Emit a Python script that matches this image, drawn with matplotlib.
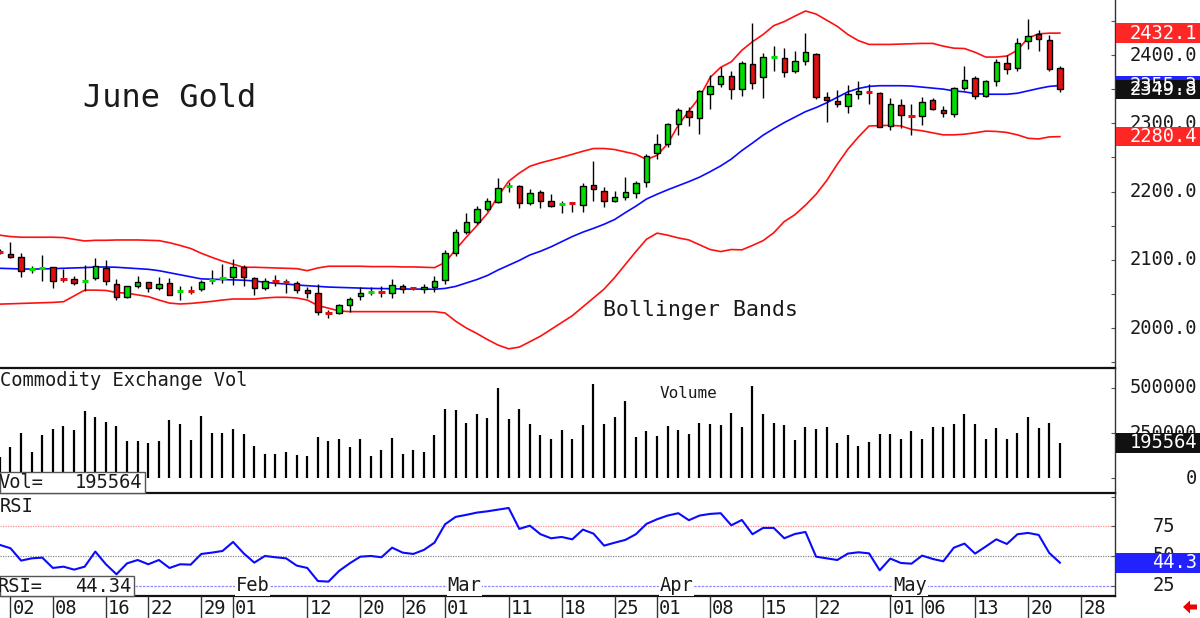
import matplotlib
matplotlib.use('Agg')
import matplotlib.pyplot as plt
import matplotlib.transforms as mtransforms
from matplotlib.patches import Rectangle, Polygon
import numpy as np

# ---------------- data (trading-day index -1 .. 99; index 0 = Jan 02 2024) ----------------
first_index = -1

opens = [2112.5, 2109, 2103.5, 2086, 2087, 2089, 2073, 2072, 2068, 2073.5,
         2088, 2064.5, 2045, 2061.5, 2067, 2058, 2065.5, 2053, 2055, 2057,
         2070, 2073, 2074.5, 2089, 2074, 2058, 2069, 2067.5, 2066, 2056,
         2051, 2023, 2022.5, 2033, 2047.5, 2052.5, 2053, 2051, 2061.5, 2058.5,
         2057.5, 2060.5, 2071, 2110.5, 2141, 2155, 2174, 2185, 2207.5, 2208,
         2183, 2199.5, 2186, 2181, 2183, 2180, 2209.5, 2201, 2186, 2192.5,
         2198, 2214.5, 2257, 2269.5, 2299, 2318, 2307, 2342.5, 2357, 2369.5,
         2350.5, 2387, 2368, 2396.5, 2396, 2376.5, 2391.5, 2401.5, 2339, 2332.5,
         2325.5, 2343, 2346, 2345, 2296.5, 2326.5, 2310.5, 2310.5, 2333.5, 2319.5,
         2313, 2351, 2366, 2340.5, 2362, 2388.5, 2380.5, 2421, 2430.5, 2422,
         2380.5]
highs = [2116, 2125.5, 2110, 2091, 2107, 2090, 2086.5, 2075.5, 2092.5, 2102.5,
         2099.5, 2072, 2062, 2076.5, 2067.5, 2074.5, 2073, 2061, 2062, 2070.5,
         2085, 2093.5, 2100.5, 2092.5, 2074.5, 2073, 2077.5, 2072, 2069.5, 2059.5,
         2064.5, 2026.5, 2035, 2045, 2059.5, 2060.5, 2061.5, 2071.5, 2064.5, 2060.5,
         2064.5, 2076, 2114.5, 2145, 2168.5, 2179, 2190, 2219.5, 2214.5, 2209.5,
         2203.5, 2202, 2196, 2186, 2185, 2212, 2244.5, 2207, 2201, 2221,
         2216, 2254.5, 2284, 2300, 2322, 2323.5, 2348.5, 2370.5, 2383, 2376.5,
         2391, 2447, 2403.5, 2413, 2410, 2406, 2432, 2403.5, 2346, 2348.5,
         2356, 2362.5, 2357.5, 2345.5, 2336.5, 2335, 2328, 2339, 2336.5, 2325.5,
         2352.5, 2384, 2369, 2363.5, 2394, 2400, 2424.5, 2452.5, 2436.5, 2429.5,
         2384]
lows = [2108, 2102, 2075, 2081, 2069, 2059, 2068, 2062.5, 2054.5, 2070,
        2063, 2041, 2043.5, 2058, 2053, 2055.5, 2048.5, 2041, 2050, 2054.5,
        2064, 2065.5, 2063, 2061.5, 2048.5, 2055.5, 2061.5, 2051.5, 2051.5, 2043.5,
        2019, 2014, 2020.5, 2023, 2041, 2048.5, 2046, 2043.5, 2051, 2055.5,
        2051, 2053, 2064.5, 2106, 2137.5, 2152.5, 2172, 2182.5, 2199, 2175.5,
        2180, 2175.5, 2178, 2168, 2169.5, 2170.5, 2186, 2178, 2184, 2187.5,
        2191, 2206, 2247, 2265.5, 2283, 2296, 2284, 2320.5, 2353.5, 2335,
        2340.5, 2349.5, 2337.5, 2377, 2368, 2374, 2385, 2335, 2302.5, 2324.5,
        2314.5, 2335.5, 2328, 2294, 2290, 2292.5, 2283, 2297.5, 2319, 2309.5,
        2308.5, 2348.5, 2335.5, 2339, 2354.5, 2372, 2377, 2408.5, 2406.5, 2376.5,
        2346]
closes = [2111.5, 2104.5, 2084, 2087, 2088, 2069.5, 2072, 2065.5, 2069, 2090.5,
          2068.5, 2045, 2061.5, 2067, 2058, 2064.5, 2048.5, 2054, 2054, 2067,
          2071, 2074, 2089, 2074.5, 2058, 2068.5, 2068, 2066.5, 2056, 2051,
          2023, 2022, 2033, 2042.5, 2052, 2053, 2052, 2063, 2057.5, 2058,
          2060.5, 2069.5, 2109.5, 2140, 2155, 2174, 2186, 2204.5, 2208.5, 2183,
          2197.5, 2186, 2179, 2182, 2182, 2208, 2203, 2186, 2191.5, 2199,
          2212, 2252, 2269, 2298.5, 2319.5, 2308.5, 2347, 2355, 2369.5, 2350,
          2388, 2358.5, 2397.5, 2397.5, 2375.5, 2391, 2405, 2338, 2334, 2328,
          2342.5, 2347.5, 2345.5, 2295, 2328, 2312, 2309.5, 2330.5, 2321.5, 2314.5,
          2351, 2363.5, 2340.5, 2362, 2389.5, 2379, 2418, 2428.5, 2423, 2380,
          2349.8]

upper_band = [2136, 2134, 2133, 2133, 2133, 2133, 2132.5, 2130, 2127.5, 2128.5,
              2128.5, 2129, 2129, 2129, 2128.5, 2128, 2125, 2121, 2116.5, 2109.5,
              2103.5, 2098, 2093.5, 2089, 2089, 2088.5, 2088, 2087.5, 2087, 2084,
              2088, 2090.5, 2090.5, 2090.5, 2090.5, 2090, 2090, 2090, 2089.5, 2089.5,
              2089, 2088.5, 2096, 2115, 2133, 2150, 2168, 2193, 2215, 2227,
              2237, 2242, 2246, 2250, 2254.5, 2259, 2263, 2263, 2261.5, 2258,
              2254.5, 2247, 2253, 2270, 2297, 2318, 2338, 2367, 2382, 2390,
              2407, 2419.5, 2430, 2443, 2449, 2457, 2464.5, 2460, 2451, 2442,
              2430, 2421, 2415.5, 2415.5, 2415.5, 2416, 2416.5, 2417, 2417, 2413,
              2410, 2409.5, 2404, 2397, 2397, 2398.5, 2407, 2425, 2431, 2432,
              2432.1]
middle_band = [2087.5, 2087, 2086.5, 2086.4, 2086.5, 2087, 2087.5, 2088, 2088.5, 2089.3,
               2089.4, 2089, 2088, 2087, 2086, 2084, 2081, 2078, 2075, 2072,
               2071.5, 2071, 2070.5, 2070, 2069, 2067, 2065.5, 2064.5, 2063, 2062,
               2061, 2060, 2059.5, 2059, 2058.5, 2058, 2057.8, 2057.5, 2057.2, 2057,
               2057, 2056.8, 2058, 2061, 2066, 2071, 2077, 2085, 2092, 2099,
               2107, 2112.5, 2119, 2126.5, 2134, 2140.5, 2146, 2152, 2159, 2169,
               2178.5, 2189, 2196, 2202.5, 2208.5, 2214.5, 2221, 2229, 2237.5, 2247.5,
               2260, 2271, 2282.5, 2292, 2301, 2309, 2317, 2323, 2330, 2338,
               2346, 2351, 2354, 2355, 2355, 2355, 2354.5, 2353, 2351.5, 2350,
               2347.5, 2346, 2343.5, 2342.5, 2342.5, 2342.5, 2344, 2347.5, 2351, 2354,
               2355.3]
lower_band = [2035, 2035.5, 2036, 2036.5, 2037, 2037.5, 2038.5, 2047, 2055.5, 2055.5,
              2055, 2052, 2051, 2048.5, 2046, 2041, 2036.5, 2035.2, 2036, 2037.5,
              2039, 2041, 2042.5, 2042.5, 2042.5, 2044, 2045, 2045, 2044, 2041,
              2033, 2029, 2025, 2024, 2024, 2024, 2024, 2024, 2024, 2024,
              2024, 2024, 2022, 2010, 2000, 1992, 1983, 1975, 1969.5, 1972,
              1980, 1988, 1998, 2008, 2018, 2031, 2044, 2057, 2074, 2093,
              2112, 2130, 2139, 2136, 2132, 2129, 2122, 2115, 2112, 2115,
              2114.5, 2121, 2128, 2139.5, 2156, 2166, 2180, 2196, 2216, 2240,
              2262, 2280, 2296, 2296.5, 2297, 2296, 2291, 2289, 2286, 2283,
              2283, 2284, 2286, 2288.5, 2288, 2286.5, 2283, 2278, 2277, 2280,
              2280.4]

volume = [114800, 170400, 251900, 142600, 238900, 270400, 288900, 266700, 374100, 340700,
          312900, 288900, 205600, 205600, 192600, 205600, 322200, 298100, 211100, 344400,
          248100, 251900, 274100, 242600, 177800, 133300, 133300, 146300, 127800, 124100,
          229600, 205600, 216700, 170400, 216700, 124100, 155600, 220400, 133300, 155600,
          142600, 238900, 383300, 377800, 307400, 357400, 333300, 501900, 327800, 381500,
          300000, 237000, 218500, 264800, 218500, 292600, 522200, 298100, 337000, 427800,
          227800, 259300, 233300, 287000, 264800, 242600, 305600, 298100, 292600, 363000,
          283300, 511100, 355600, 305600, 292600, 211100, 283300, 274100, 283300, 192600,
          237000, 177800, 198100, 242600, 246300, 214800, 259300, 214800, 283300, 283300,
          300000, 355600, 301900, 214800, 277800, 218500, 251900, 337000, 277800, 305600,
          195564]

rsi = [59.3, 56.5, 46.1, 48.0, 48.6, 39.9, 41.0, 38.5, 41.0, 53.7,
       43.0, 34.6, 43.8, 46.6, 43.0, 46.6, 39.9, 43.0, 42.7, 51.7,
       52.8, 54.2, 61.8, 52.2, 44.4, 50.0, 48.9, 48.0, 41.9, 39.9,
       28.9, 28.4, 37.4, 43.8, 49.4, 50.0, 48.9, 57.0, 52.8, 51.7,
       55.1, 61.2, 76.7, 82.9, 84.6, 86.5, 87.6, 89.0, 90.4, 72.8,
       75.5, 68.3, 64.9, 66.0, 64.0, 72.2, 68.8, 58.7, 61.2, 63.5,
       68.3, 77.0, 80.9, 84.0, 86.0, 80.1, 84.0, 85.4, 86.0, 75.8,
       80.3, 68.3, 73.6, 73.6, 64.9, 68.5, 70.2, 49.4, 48.0, 46.6,
       52.0, 53.1, 52.2, 37.9, 47.8, 44.1, 43.5, 50.3, 47.5, 45.5,
       57.0, 60.4, 52.0, 57.9, 64.0, 60.1, 68.3, 69.4, 67.7, 52.5,
       44.34]

date_tick_index = [0, 4, 9, 13, 18, 21, 28, 33, 37, 41, 47, 52, 57, 61, 66, 71, 76, 83, 86, 91, 96, 101]
date_tick_labels = ['02', '08', '16', '22', '29', '01', '12', '20', '26', '01', '11',
                    '18', '25', '01', '08', '15', '22', '01', '06', '13', '20', '28']
month_index = [21, 41, 61, 83]
month_labels = ['Feb', 'Mar', 'Apr', 'May']

price_ticks = [2400, 2300, 2200, 2100, 2000]
volume_ticks = [500000, 250000, 0]
rsi_ticks = [75, 50, 25]

last_close = 2349.8
last_upper = 2432.1
last_middle = 2355.3
last_lower = 2280.4
last_volume = 195564
last_rsi = 44.34

# ---------------- figure ----------------
W, H, DPI = 1200, 618, 100
fig = plt.figure(figsize=(W / DPI, H / DPI), dpi=DPI)
fig.patch.set_facecolor('white')
FONT = 'DejaVu Sans Mono'
TXT = '#1a1a1a'
GREEN = '#00dd00'
RED = '#e01010'
BAND_RED = '#ff1010'
BLUE = '#0a0aff'


def add_axes_px(left, top, right, bottom):
    return fig.add_axes([left / W, 1 - bottom / H, (right - left) / W, (bottom - top) / H])


AX_RIGHT = 1115
ax = add_axes_px(0, 0, AX_RIGHT, 368)
axv = add_axes_px(0, 368, AX_RIGHT, 493)
axr = add_axes_px(0, 493, AX_RIGHT, 596)
axd = add_axes_px(0, 596, AX_RIGHT, 618)

XMIN, XMAX = -0.99, 104.2
for a in (ax, axv, axr, axd):
    a.set_xlim(XMIN, XMAX)
    a.set_facecolor('none')
    a.set_xticks([])

ax.set_ylim(1941.4, 2480.6)
axv.set_ylim(-83333, 611111)
axr.set_ylim(16.3, 103.0)
axd.set_ylim(0, 1)
axd.axis('off')

for a in (ax, axv, axr):
    a.spines['top'].set_visible(False)
    a.spines['left'].set_visible(False)
    a.spines['right'].set_color('#333333')
    a.spines['right'].set_linewidth(1.0)
    a.spines['bottom'].set_color('#111111')
    a.spines['bottom'].set_linewidth(1.6)
    a.tick_params(axis='y', which='both', direction='in', right=True, left=False,
                  labelright=False, labelleft=False, length=3, width=0.8, color='#555555')

ax.set_yticks(np.arange(1950, 2480, 50))
axv.set_yticks([0, 250000, 500000])
axr.set_yticks([25, 50, 75, 100])

xs = np.arange(len(closes)) + first_index

# ---------------- main price panel ----------------
ax.plot(xs, upper_band, color=BAND_RED, lw=1.2, zorder=1)
ax.plot(xs, lower_band, color=BAND_RED, lw=1.2, zorder=1)
ax.plot(xs, middle_band, color=BLUE, lw=1.2, zorder=1)

for xi, o, h, l, c in zip(xs, opens, highs, lows, closes):
    ax.vlines(xi, l, h, color='black', lw=1.0, zorder=2)
    if abs(c - o) < 1.6:
        col = GREEN if c >= o else RED
        ax.hlines((o + c) / 2, xi - 0.3, xi + 0.3, color=col, lw=2.2, zorder=3)
    else:
        col = GREEN if c > o else RED
        ax.add_patch(Rectangle((xi - 0.25, min(o, c)), 0.5, abs(c - o), facecolor=col,
                               edgecolor='black', lw=1.0, zorder=3))

fig.text(83 / W, 1 - 98.5 / H, 'June Gold', fontsize=23, family=FONT, color=TXT,
         ha='left', va='center')
fig.text(603 / W, 1 - 310 / H, 'Bollinger Bands', fontsize=15.5, family=FONT, color=TXT,
         ha='left', va='center')

# ---------------- volume panel ----------------
axv.vlines(xs, 0, volume, color='black', lw=1.6, zorder=2)
fig.text(0 / W, 1 - 380.5 / H, 'Commodity Exchange Vol', fontsize=13.5, family=FONT,
         color=TXT, ha='left', va='center')
fig.text(660 / W, 1 - 393 / H, 'Volume', fontsize=11.5, family=FONT, color=TXT,
         ha='left', va='center')

fig.patches.append(Rectangle((0, 1 - 493 / H), 145 / W, 21 / H, transform=fig.transFigure,
                             facecolor='white', edgecolor='#555555', lw=1.0, zorder=5))
fig.text(-2 / W, 1 - 482.5 / H, 'Vol=', fontsize=13.5, family=FONT, color=TXT,
         ha='left', va='center', zorder=6)
fig.text(142 / W, 1 - 482.5 / H, f'{last_volume}', fontsize=13.5, family=FONT, color=TXT,
         ha='right', va='center', zorder=6)

# ---------------- RSI panel ----------------
axr.axhline(75, color='#ff9090', lw=0.9, ls=(0, (1, 1)), zorder=1)
axr.axhline(50, color='#888888', lw=0.9, ls=(0, (1, 1)), zorder=1)
axr.axhline(25, color='#8c8cff', lw=0.9, ls=(0, (2, 1)), zorder=1)
axr.plot(xs, rsi, color=BLUE, lw=1.5, zorder=3)
fig.text(0 / W, 1 - 506 / H, 'RSI', fontsize=13.5, family=FONT, color=TXT,
         ha='left', va='center')
for mi, ml in zip(month_index, month_labels):
    axr.text(mi + 0.25, 25, ml, fontsize=13.5, family=FONT, color=TXT, ha='left',
             va='center', zorder=4,
             bbox=dict(boxstyle='square,pad=0.05', facecolor='white', edgecolor='none'))

fig.patches.append(Rectangle((0, 1 - 596 / H), 134 / W, 20 / H, transform=fig.transFigure,
                             facecolor='white', edgecolor='#555555', lw=1.0, zorder=5))
fig.text(-2 / W, 1 - 586 / H, 'RSI=', fontsize=13.5, family=FONT, color=TXT,
         ha='left', va='center', zorder=6)
fig.text(131 / W, 1 - 586 / H, f'{last_rsi:.2f}', fontsize=13.5, family=FONT, color=TXT,
         ha='right', va='center', zorder=6)

# ---------------- date row ----------------
axd.vlines(date_tick_index, 0, 1, color='#333333', lw=1.0)
for ti, tl in zip(date_tick_index, date_tick_labels):
    axd.text(ti + 0.2, 0.45, tl, fontsize=13.5, family=FONT, color=TXT, ha='left', va='center')

# ---------------- right side labels and value boxes ----------------
def right_labels(a, values, fmt, xr):
    tr = mtransforms.blended_transform_factory(fig.transFigure, a.transData)
    for v in values:
        a.text(xr / W, v, fmt(v), transform=tr, fontsize=13.5, family=FONT, color=TXT,
               ha='right', va='center', clip_on=False, zorder=5)


def value_box(a, v, text, fc, h_data):
    tr = mtransforms.blended_transform_factory(fig.transFigure, a.transData)
    a.add_patch(Rectangle((1116 / W, v - h_data / 2), 84 / W, h_data, transform=tr,
                          facecolor=fc, edgecolor='none', clip_on=False, zorder=6))
    a.text(1197 / W, v, text, transform=tr, fontsize=13.5, family=FONT, color='white',
           ha='right', va='center', clip_on=False, zorder=7)


right_labels(ax, price_ticks, lambda v: f'{v:.1f}', 1197)
right_labels(axv, volume_ticks, lambda v: f'{v}', 1197)
right_labels(axr, rsi_ticks, lambda v: f'{v}', 1175)

ph = 19.5 / 0.6825
value_box(ax, last_upper, f'{last_upper:.1f}', '#ff2626', ph)
value_box(ax, last_middle, f'{last_middle:.1f}', '#2222ff', ph)
value_box(ax, last_close, f'{last_close:.1f}', '#111111', ph)
value_box(ax, last_lower, f'{last_lower:.1f}', '#ff2626', ph)
value_box(axv, last_volume, f'{last_volume}', '#111111', 19.5 / 90 * 500000)
value_box(axr, last_rsi, f'{last_rsi:.1f}', '#2222ff', 20 / 1.188)

# red arrow bottom right
arrow_px = [(1183, 607), (1190, 600.5), (1190, 604.5), (1197, 604.5), (1197, 609.5),
            (1190, 609.5), (1190, 613.5)]
fig.patches.append(Polygon([(px / W, 1 - py / H) for px, py in arrow_px], closed=True,
                           transform=fig.transFigure, facecolor='#ee0000', edgecolor='none'))

fig.savefig('out.png', dpi=DPI, facecolor='white')
